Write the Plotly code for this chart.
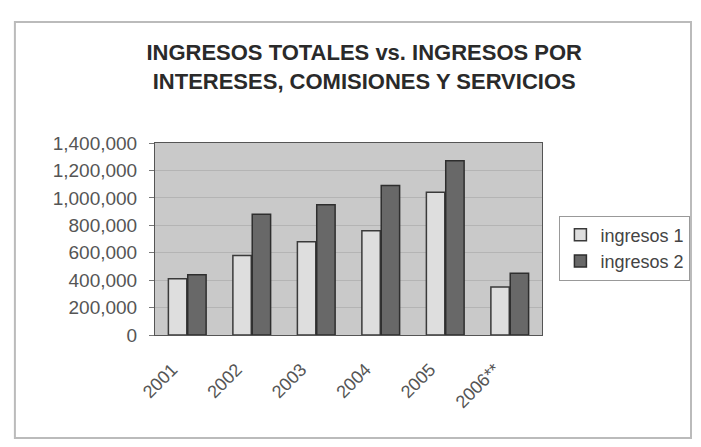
import plotly.graph_objects as go

years = ["2001", "2002", "2003", "2004", "2005", "2006**"]
ingresos_1 = [410000, 580000, 680000, 760000, 1040000, 350000]
ingresos_2 = [440000, 880000, 950000, 1090000, 1270000, 450000]
y_ticks = [0, 200000, 400000, 600000, 800000, 1000000, 1200000, 1400000]
title_text = "INGRESOS TOTALES vs. INGRESOS POR<br>INTERESES, COMISIONES Y SERVICIOS"

font_main = "Liberation Sans, Arial, sans-serif"

fig = go.Figure()
fig.add_trace(go.Bar(
    x=years, y=ingresos_1, name="ingresos 1",
    marker=dict(color="#dedede", line=dict(color="#3a3a3a", width=1.5)),
))
fig.add_trace(go.Bar(
    x=years, y=ingresos_2, name="ingresos 2",
    marker=dict(color="#686868", line=dict(color="#2e2e2e", width=1.5)),
))

fig.update_layout(
    width=685, height=431,
    margin=dict(l=147, r=151, t=135, b=104, autoexpand=False),
    paper_bgcolor="white",
    plot_bgcolor="#c9c9c9",
    barmode="group",
    bargap=0.40,
    bargroupgap=0.05,
    title=dict(
        text="<b>" + title_text + "</b>",
        x=0.52, xanchor="center",
        y=0.879, yanchor="middle",
        font=dict(family=font_main, size=22, color="#2a2a2a"),
    ),
    legend=dict(
        x=1.045, xanchor="left", y=0.453, yanchor="middle",
        bgcolor="white", bordercolor="#999999", borderwidth=1,
        font=dict(family=font_main, size=18, color="#444444"),
        traceorder="normal", itemwidth=30,
    ),
    font=dict(family=font_main, color="#555555"),
    xaxis=dict(
        tickangle=-45,
        tickfont=dict(family=font_main, size=18, color="#555555"),
        showline=True, linecolor="#555555", linewidth=1, mirror=True,
        ticks="", showgrid=False,
        ticklabelstandoff=16, ticklabelshift=-15,
    ),
    yaxis=dict(
        range=[0, 1400000],
        tickvals=y_ticks,
        tickformat=",d",
        tickfont=dict(family=font_main, size=19, color="#555555"),
        showline=True, linecolor="#555555", linewidth=1, mirror=True,
        gridcolor="#b4b4b4", gridwidth=1,
        ticks="outside", ticklen=5, tickcolor="#777777",
        ticklabelstandoff=8,
        zeroline=False,
    ),
    shapes=[dict(
        type="rect", xref="paper", yref="paper",
        x0=-0.362, x1=1.385, y0=-0.536, y1=1.630,
        line=dict(color="#bbbbbb", width=2),
        fillcolor="rgba(0,0,0,0)", layer="below",
    )],
)

fig.write_html("out.html")
